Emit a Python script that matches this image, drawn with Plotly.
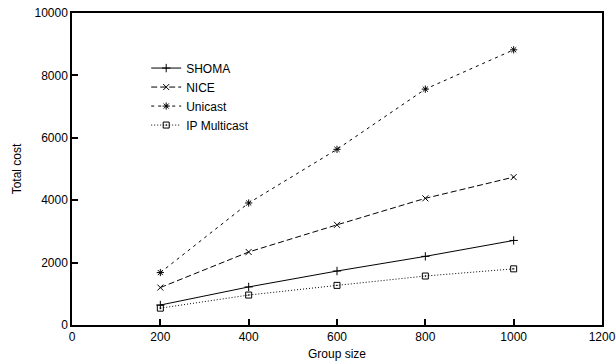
import plotly.graph_objects as go

group_size = [200, 400, 600, 800, 1000]
shoma = [640, 1220, 1730, 2200, 2710]
nice = [1200, 2340, 3210, 4060, 4740]
unicast = [1680, 3910, 5630, 7560, 8820]
ip_multicast = [540, 960, 1270, 1570, 1800]

series = [
    ("SHOMA", shoma, "solid", "cross-thin-open"),
    ("NICE", nice, "6px,3px", "x-thin-open"),
    ("Unicast", unicast, "3px,4px", "asterisk-open"),
    ("IP Multicast", ip_multicast, "1px,2px", "square-open-dot"),
]

FONT = "Liberation Sans, Arial, Helvetica, sans-serif"

fig = go.Figure()
for name, ys, dash, sym in series:
    fig.add_trace(go.Scatter(
        x=group_size, y=ys, name=name, mode="lines+markers",
        line=dict(color="black", width=1, dash=dash),
        marker=dict(symbol=sym, size=6, color="black", line=dict(color="black", width=1)),
    ))

axis_common = dict(
    showline=True, linecolor="black", linewidth=1.5, mirror=True,
    ticks="inside", ticklen=6, tickcolor="black", tickwidth=1.5,
    showgrid=False, zeroline=False, tickformat="d", automargin=False,
    tickfont=dict(family=FONT, size=12, color="black"),
)

fig.update_layout(
    width=616, height=364,
    margin=dict(l=72, r=14, t=13, b=39),
    paper_bgcolor="white", plot_bgcolor="white",
    font=dict(family=FONT, size=12, color="black"),
    xaxis=dict(range=[0, 1200], dtick=200,
               title=dict(text="Group size", standoff=6, font=dict(size=12)), **axis_common),
    yaxis=dict(range=[0, 10000], dtick=2000,
               title=dict(text="Total cost", standoff=10, font=dict(size=12)), **axis_common),
    legend=dict(x=0.14, y=0.87, xanchor="left", yanchor="top",
                bgcolor="rgba(0,0,0,0)", font=dict(size=12),
                itemwidth=30, tracegroupgap=0),
)

fig.write_html("out.html")
